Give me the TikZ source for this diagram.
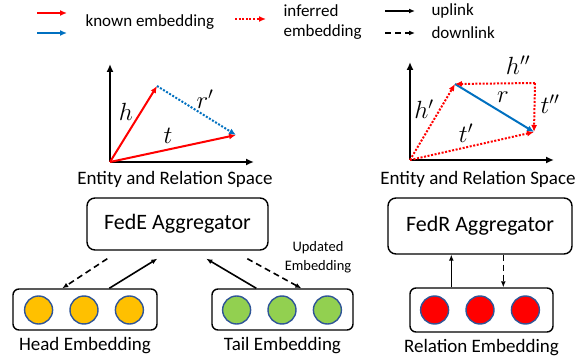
\documentclass[tikz,border=0pt]{standalone}
\usepackage{fontspec}
\setmainfont{Carlito}
\usetikzlibrary{calc,positioning,arrows.meta}
\definecolor{vred}{RGB}{255,0,0}
\definecolor{vblue}{RGB}{0,112,192}
\definecolor{ringblue}{RGB}{47,85,151}
\definecolor{headfill}{RGB}{255,192,0}
\definecolor{tailfill}{RGB}{146,208,80}
\tikzset{
  axis/.style={-{Latex[length=8pt,width=7pt]}, line width=2pt},
  known/.style={-{Latex[length=7pt,width=6pt]}, line width=2pt, draw=vred},
  knownrel/.style={known, draw=vblue},
  inferred/.style={known, dash pattern=on 2pt off 1.6pt},
  inferredrel/.style={inferred, draw=vblue},
  uplink/.style={-{Latex[length=6pt,width=5pt]}, line width=1.6pt},
  downlink/.style={uplink, dash pattern=on 6pt off 4pt},
  agg/.style={draw, rounded corners=8pt, line width=1.4pt, font=\fontsize{22}{26}\selectfont,
    minimum width=181, minimum height=52},
  embbox/.style={draw, rounded corners=6pt, line width=1.4pt, minimum width=144, minimum height=41},
  ball/.style={circle, draw=ringblue, line width=1.4pt, minimum size=28, inner sep=0pt},
  caption/.style={font=\fontsize{19}{22}\selectfont},
  legend/.style={font=\fontsize{17}{20}\selectfont, anchor=west},
  lab/.style={font=\fontsize{24}{28}\selectfont}
}

\begin{document}
\begin{tikzpicture}[x=1pt, y=-1pt, node distance=16pt]
  \useasboundingbox (0,0) rectangle (587,363);
  % legend
  \node[legend] (knowntxt) at (82,22) {known embedding};
  \draw[known] ([xshift=-45pt,yshift=9pt]knowntxt.west) -- ++(30,0);
  \draw[knownrel] ([xshift=-45pt,yshift=-11pt]knowntxt.west) -- ++(30,0);
  \node[legend, align=left] (inftxt) at (280,22) {inferred\\embedding};
  \draw[inferred] ([xshift=-45pt,yshift=3pt]inftxt.west) -- ++(31,0);
  \node[legend] (uptxt) at (428,11) {uplink};
  \node[legend] (downtxt) at (428,33) {downlink};
  \draw[uplink] ([xshift=-43pt]uptxt.west) -- ++(30,0);
  \draw[downlink] ([xshift=-43pt]downtxt.west) -- ++(30,0);

  % FedE space
  \coordinate (o1) at (110,162);
  \coordinate (h1) at (157,86);
  \coordinate (t1) at (236,135);
  \draw[axis] (o1) -- (110,64);
  \draw[axis] (o1) -- (254,162);
  \draw[known] (o1) -- (h1);
  \draw[known] (o1) -- (t1);
  \draw[inferredrel] (h1) -- (t1);
  \node[lab] at (126,112) {$h$};
  \node[lab] at (168,136) {$t$};
  \node[lab] at (205,99) {$r'$};
  \node[caption] (space1) at (175,179) {Entity and Relation Space};

  % FedR space
  \coordinate (o2) at (410,160);
  \coordinate (h2) at (455,84);
  \coordinate (t2) at (534,132);
  \coordinate (c2) at (535,83);
  \draw[axis] (o2) -- (410,62);
  \draw[axis] (o2) -- (554,160);
  \draw[inferred] (o2) -- (h2);
  \draw[inferred] (o2) -- (t2);
  \draw[knownrel] (h2) -- (t2);
  \draw[inferred] (c2) -- (h2);
  \draw[inferred] (c2) -- (t2);
  \node[lab] at (518,65) {$h''$};
  \node[lab] at (424,109) {$h'$};
  \node[lab] at (503,97) {$r$};
  \node[lab] at (550,104) {$t''$};
  \node[lab] at (466,133) {$t'$};
  \node[caption] (space2) at (478,179) {Entity and Relation Space};

  % aggregators
  \node[agg] (fede) at (177.5,224) {FedE Aggregator};
  \node[agg, minimum width=184, minimum height=56] (fedr) at (480,226) {FedR Aggregator};

  % embeddings
  \node[embbox] (head) at (85,309.5) {};
  \node[ball, fill=headfill] (hb2) at (84,310) {};
  \node[ball, fill=headfill, left=of hb2] (hb1) {};
  \node[ball, fill=headfill, right=of hb2] (hb3) {};
  \node[caption, below=3pt of head] (headtxt) {Head Embedding};

  \node[embbox, minimum width=141] (tail) at (282.5,309.5) {};
  \node[ball, fill=tailfill] (tb2) at (282,310) {};
  \node[ball, fill=tailfill, left=of tb2] (tb1) {};
  \node[ball, fill=tailfill, right=of tb2] (tb3) {};
  \node[caption, below=3pt of tail] (tailtxt) {Tail Embedding};

  \node[embbox, minimum width=143, minimum height=44] (rel) at (481.5,310) {};
  \node[ball, fill=vred] (rb2) at (480,310) {};
  \node[ball, fill=vred, left=of rb2] (rb1) {};
  \node[ball, fill=vred, right=of rb2] (rb3) {};
  \node[caption, below=3pt of rel] (reltxt) {Relation Embedding};

  % links
  \draw[downlink] ($(fede.south west)+(21,8)$) -- ($(head.north west)+(50,0)$);
  \draw[uplink] ($(head.north west)+(97,0)$) -- ($(fede.south west)+(71,8)$);
  \draw[uplink] ($(tail.north west)+(45,0)$) -- ($(fede.south west)+(120,8)$);
  \draw[downlink] ($(fede.south west)+(161,8)$) -- ($(tail.north west)+(90,0)$);
  \node[font=\fontsize{14.5}{19}\selectfont, align=center] (updtxt) at (318,257) {Updated\\Embedding};
  \draw[uplink] ($(rel.north west)+(42,0)$) -- ($(fedr.south west)+(64,0)$);
  \draw[downlink] ($(fedr.south west)+(116,0)$) -- ($(rel.north west)+(94,0)$);
\end{tikzpicture}
\end{document}
